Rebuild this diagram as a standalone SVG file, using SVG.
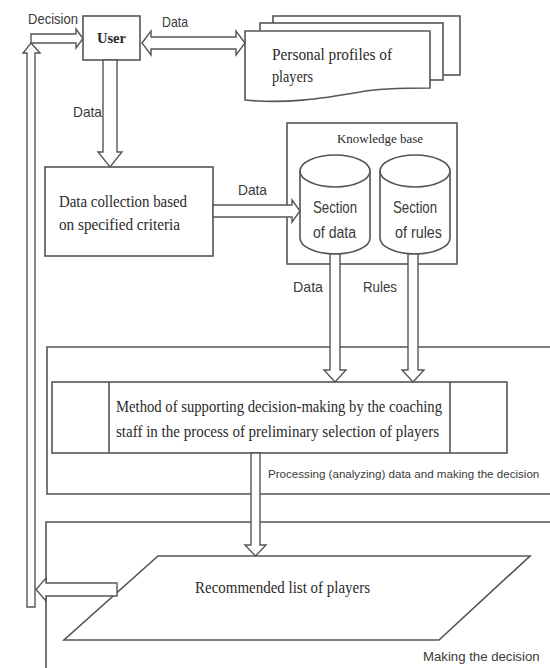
<svg xmlns="http://www.w3.org/2000/svg" width="550" height="668" viewBox="0 0 550 668">
<style>
.s{fill:#fff;stroke:#555;stroke-width:1.6}
.n{fill:none;stroke:#555;stroke-width:1.6}
.a{fill:#fff;stroke:#555;stroke-width:1.4;stroke-linejoin:miter}
.sf{font-family:"Liberation Serif","Times New Roman",serif;fill:#2a2a2a}
.ss{font-family:"Liberation Sans",Arial,sans-serif;fill:#3a3a3a}
</style>
<rect width="550" height="668" fill="#fff"/>
<g id="processing-stage">
<path class="n" d="M550,347 H47 V494 H550"/>
<text class="ss" x="268" y="478" font-size="11.6">Processing (analyzing) data and making the decision</text>
</g>
<g id="decision-stage">
<path class="n" d="M550,522 H46 V668"/>
<text class="ss" x="423" y="661" font-size="13.2">Making the decision</text>
</g>
<g id="user">
<rect class="s" x="83" y="16" width="57" height="44"/>
<text class="sf" x="97" y="43" font-size="14" font-weight="bold" textLength="29" lengthAdjust="spacingAndGlyphs">User</text>
</g>
<g id="profiles">
<rect class="s" x="273" y="16" width="187" height="59"/>
<rect class="s" x="260" y="23" width="183" height="57"/>
<path class="s" d="M245,31 L430,31 L430,88 C410,88 380,88 360,92 C320,99 285,104 245,100 Z"/>
<text class="sf" x="272" y="60" font-size="16" textLength="120" lengthAdjust="spacingAndGlyphs">Personal profiles of</text>
<text class="sf" x="272" y="82" font-size="16" textLength="41" lengthAdjust="spacingAndGlyphs">players</text>
</g>
<g id="data-collection">
<rect class="s" x="45" y="167" width="168" height="89"/>
<text class="sf" x="59" y="207" font-size="16" textLength="128" lengthAdjust="spacingAndGlyphs">Data collection based</text>
<text class="sf" x="59" y="230" font-size="16" textLength="121" lengthAdjust="spacingAndGlyphs">on specified criteria</text>
</g>
<g id="knowledge-base">
<rect class="s" x="287" y="123" width="170" height="141"/>
<text class="sf" x="337" y="143" font-size="13" textLength="86" lengthAdjust="spacingAndGlyphs">Knowledge base</text>
</g>
<g id="section-data">
<path class="s" d="M300,171 L300,238 A35,16 0 0 0 370,238 L370,171"/>
<ellipse class="s" cx="335" cy="171" rx="35" ry="16"/>
<text class="ss" x="313" y="213" font-size="17" textLength="44" lengthAdjust="spacingAndGlyphs">Section</text>
<text class="ss" x="313" y="238" font-size="17" textLength="43" lengthAdjust="spacingAndGlyphs">of data</text>
</g>
<g id="section-rules">
<path class="s" d="M380,171 L380,238 A35,16 0 0 0 450,238 L450,171"/>
<ellipse class="s" cx="415" cy="171" rx="35" ry="16"/>
<text class="ss" x="393" y="213" font-size="17" textLength="44" lengthAdjust="spacingAndGlyphs">Section</text>
<text class="ss" x="395" y="238" font-size="17" textLength="47" lengthAdjust="spacingAndGlyphs">of rules</text>
</g>
<g id="method">
<rect class="s" x="52" y="382" width="455" height="71"/>
<line class="n" x1="109" y1="382" x2="109" y2="453"/>
<line class="n" x1="450" y1="382" x2="450" y2="453"/>
<text class="sf" x="116" y="412" font-size="16" textLength="326" lengthAdjust="spacingAndGlyphs">Method of supporting decision-making by the coaching</text>
<text class="sf" x="116" y="437" font-size="16" textLength="323" lengthAdjust="spacingAndGlyphs">staff in the process of preliminary selection of players</text>
</g>
<g id="recommended-list">
<polygon class="s" points="158,556 530,556 439,640 64,640"/>
<text class="sf" x="195" y="593" font-size="16" textLength="175" lengthAdjust="spacingAndGlyphs">Recommended list of players</text>
</g>
<g id="connectors">
<polygon class="a" points="31,43 40,53 35,53 35,607 27,607 27,53 23,53"/>
<polygon class="a" points="31,34 76,34 76,29 83,38.5 76,48 76,43 31,43"/>
<text class="ss" x="28" y="24" font-size="15" textLength="50" lengthAdjust="spacingAndGlyphs">Decision</text>
<polygon class="a" points="142,43 151,31 151,37 236,37 236,31 245,43 236,55 236,49 151,49 151,55"/>
<text class="ss" x="162" y="27" font-size="15" textLength="26" lengthAdjust="spacingAndGlyphs">Data</text>
<polygon class="a" points="103,60 117,60 117,152 122,152 110,167 98,152 103,152"/>
<text class="ss" x="73" y="117" font-size="15" textLength="29" lengthAdjust="spacingAndGlyphs">Data</text>
<polygon class="a" points="213,205 292,205 292,200 300,211 292,222 292,217 213,217"/>
<text class="ss" x="238" y="195" font-size="15" textLength="29" lengthAdjust="spacingAndGlyphs">Data</text>
<polygon class="a" points="330,254 340,254 340,370 346,370 335,382 324,370 330,370"/>
<text class="ss" x="293" y="292" font-size="15" textLength="30" lengthAdjust="spacingAndGlyphs">Data</text>
<polygon class="a" points="408,254 418,254 418,370 424,370 413,382 402,370 408,370"/>
<text class="ss" x="363" y="292" font-size="15" textLength="34" lengthAdjust="spacingAndGlyphs">Rules</text>
<polygon class="a" points="251,453 260,453 260,545 266,545 255.5,556 245,545 251,545"/>
<polygon class="a" points="117,583 117,596 46,596 46,601 36,589.5 46,578 46,583"/>
</g>
</svg>
